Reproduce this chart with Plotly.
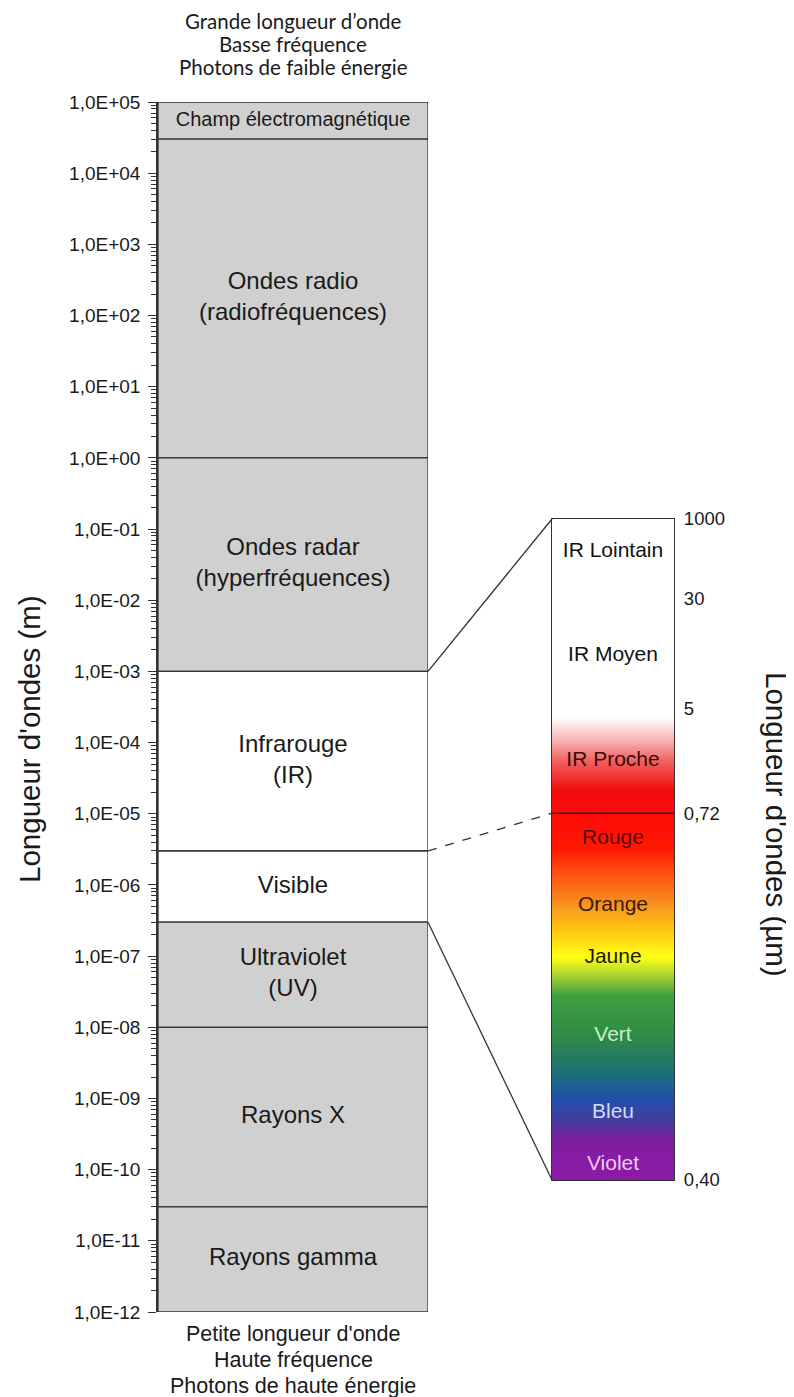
import math
import plotly.graph_objects as go

# ---------------- data ----------------
band_names = ["Champ électromagnétique", "Ondes radio<br>(radiofréquences)",
              "Ondes radar<br>(hyperfréquences)", "Infrarouge<br>(IR)", "Visible",
              "Ultraviolet<br>(UV)", "Rayons X", "Rayons gamma"]
band_top_m = [1e5, 3e4, 1.0, 1e-3, 3e-6, 3e-7, 1e-8, 3e-11]
band_bottom_m = [3e4, 1.0, 1e-3, 3e-6, 3e-7, 1e-8, 3e-11, 1e-12]
band_fill = ["#d0d0d0", "#d0d0d0", "#d0d0d0", "#ffffff", "#ffffff",
             "#d0d0d0", "#d0d0d0", "#d0d0d0"]
band_label_size = [20, 24, 24, 24, 24, 24, 24, 24]

decade_values = [1e-12, 1e-11, 1e-10, 1e-9, 1e-8, 1e-7, 1e-6, 1e-5, 1e-4,
                 1e-3, 1e-2, 1e-1, 1e0, 1e1, 1e2, 1e3, 1e4, 1e5]
decade_labels = ["1,0E-12", "1,0E-11", "1,0E-10", "1,0E-09", "1,0E-08", "1,0E-07",
                 "1,0E-06", "1,0E-05", "1,0E-04", "1,0E-03", "1,0E-02", "1,0E-01",
                 "1,0E+00", "1,0E+01", "1,0E+02", "1,0E+03", "1,0E+04", "1,0E+05"]

# zoom (schematic) scale of the optical part, in µm
zoom_tick_labels = ["0,40", "0,72", "5", "30", "1000"]
zoom_tick_um = [0.40, 0.72, 5, 30, 1000]
zoom_band_names = ["IR Lointain", "IR Moyen", "IR Proche", "Rouge", "Orange",
                   "Jaune", "Vert", "Bleu", "Violet"]
zoom_band_text_color = ["#111111", "#111111", "#3a0a0a", "#5a0a0a", "#3a1a00",
                        "#1a1a00", "#c8f0c8", "#cfdcff", "#f4c8f4"]
spectrum_colors = ["#8c1aa8", "#801ea0", "#4a3a9e", "#1e50aa", "#1e7272", "#2e8b45",
                   "#40a040", "#a8d232", "#ffff14", "#ffc814", "#f7901e", "#ff4a10",
                   "#ff1a00", "#ff0a0a", "#f00c0c", "#f26262", "#f7b4b4", "#ffffff",
                   "#ffffff"]

top_lines = ["Grande longueur d’onde", "Basse fréquence", "Photons de faible énergie"]
bottom_lines = ["Petite longueur d'onde", "Haute fréquence", "Photons de haute énergie"]

# ---------------- layout constants (pixels of the 794x1397 page) ----------------
PAGE_W, PAGE_H = 794, 1397
OFF = 8                      # default body margin of the page
W, H = PAGE_W - OFF, PAGE_H - OFF


def px(x):
    return (x - OFF) / W


def py(y):
    return 1 - (y - OFF) / H


left_x = (px(158), px(428))
left_y = (py(1312), py(102))
right_x = (px(552), px(674))
right_y = (py(1180), py(519))
# schematic position (0 = bottom, 100 = top) of the zoom-bar ticks and labels
zoom_tick_pos = [0, 55.5, 71.4, 88.0, 100]
zoom_label_pos = [95.0, 79.3, 63.5, 51.7, 41.5, 33.6, 21.8, 10.1, 2.3]
spectrum_pos = [0, 6.1, 8.6, 12.6, 16.6, 21.9, 28.0, 31.0, 33.7, 37.8, 41.9, 46.9,
                49.9, 55.5, 59.0, 63.5, 66.6, 70.0, 100]
top_lines_y = [21, 44, 67]
bottom_lines_y = [1334, 1360, 1386]

FONT = "Liberation Sans, Arial, sans-serif"
LINE = "#333333"
TXT = "#1a1a1a"

fig = go.Figure()

# left column: bands
fig.add_trace(go.Bar(
    x=[0] * len(band_names),
    y=[t - b for t, b in zip(band_top_m, band_bottom_m)],
    base=band_bottom_m, width=1,
    marker=dict(color=band_fill, line=dict(color=LINE, width=1.3)),
    cliponaxis=False, hoverinfo="skip", showlegend=False,
    xaxis="x", yaxis="y"))

fig.add_trace(go.Scatter(
    x=[0] * len(band_names),
    y=[(t * b) ** 0.5 for t, b in zip(band_top_m, band_bottom_m)],
    mode="text", text=band_names,
    textfont=dict(family=FONT, size=band_label_size, color=TXT),
    hoverinfo="skip", showlegend=False, xaxis="x", yaxis="y"))

# right column: colour spectrum as a smoothed heatmap
fig.add_trace(go.Heatmap(
    x=[0, 1], y=spectrum_pos, z=[[p, p] for p in spectrum_pos],
    zmin=0, zmax=100, zsmooth="best", showscale=False, hoverinfo="skip",
    colorscale=[[p / 100, c] for p, c in zip(spectrum_pos, spectrum_colors)],
    xaxis="x2", yaxis="y2"))

fig.add_trace(go.Scatter(
    x=[0.5] * len(zoom_band_names), y=zoom_label_pos, mode="text",
    text=zoom_band_names,
    textfont=dict(family=FONT, size=21, color=zoom_band_text_color),
    hoverinfo="skip", showlegend=False, xaxis="x2", yaxis="y2"))

# boundary between IR proche and visible inside zoom bar
fig.add_shape(type="line", xref="x2 domain", yref="y2", x0=0, x1=1,
              y0=zoom_tick_pos[1], y1=zoom_tick_pos[1],
              line=dict(color="#222222", width=1.5))


# connecting lines (data values -> paper coordinates)
def left_paper_y(v):
    return left_y[0] + (math.log10(v) + 12) / 17 * (left_y[1] - left_y[0])


def right_paper_y(p):
    return right_y[0] + p / 100 * (right_y[1] - right_y[0])


connections = [(band_bottom_m[2], zoom_tick_pos[4], "solid"),
               (band_bottom_m[3], zoom_tick_pos[1], "dash"),
               (band_bottom_m[4], zoom_tick_pos[0], "solid")]
for v, p, d in connections:
    fig.add_shape(type="line", xref="paper", yref="paper",
                  x0=left_x[1], y0=left_paper_y(v), x1=right_x[0], y1=right_paper_y(p),
                  line=dict(color=LINE, width=1.3, dash=d))

minor_vals = [k * 10 ** e for e in range(-12, 5) for k in range(2, 10)]

fig.update_layout(
    width=W, height=H,
    margin=dict(l=0, r=0, t=0, b=0, pad=0, autoexpand=False),
    paper_bgcolor="white", plot_bgcolor="rgba(0,0,0,0)",
    barmode="overlay", showlegend=False,
    font=dict(family=FONT, color=TXT),
    xaxis=dict(domain=list(left_x), range=[-0.5, 0.5], visible=False,
               automargin=False),
    yaxis=dict(domain=list(left_y), type="log", range=[-12, 5], anchor="x",
               automargin=False,
               showline=True, linecolor=LINE, linewidth=1.5, showgrid=False,
               zeroline=False, tickmode="array", tickvals=decade_values,
               ticktext=decade_labels, ticks="outside", ticklen=8, tickcolor=LINE,
               ticklabelstandoff=4,
               tickfont=dict(family=FONT, size=19, color=TXT),
               minor=dict(tickmode="array", tickvals=minor_vals, ticks="outside",
                          ticklen=5, tickcolor=LINE, showgrid=False)),
    yaxis3=dict(type="log", range=[-12, 5], overlaying="y", anchor="x", side="left",
                automargin=False,
                showgrid=False, zeroline=False, showline=False, showticklabels=False,
                tickmode="array", tickvals=decade_values, ticks="inside", ticklen=5,
                tickcolor=LINE,
                minor=dict(tickmode="array", tickvals=minor_vals, ticks="inside",
                           ticklen=5, tickcolor=LINE, showgrid=False)),
    xaxis2=dict(domain=list(right_x), range=[-0.5, 1.5], anchor="y2",
                automargin=False,
                showline=True, mirror=True, linecolor=LINE, linewidth=1.3,
                showgrid=False, zeroline=False, showticklabels=False, ticks=""),
    yaxis2=dict(domain=list(right_y), range=[0, 100], anchor="x2", side="right",
                automargin=False,
                showline=True, mirror=True, linecolor=LINE, linewidth=1.3,
                showgrid=False, zeroline=False, ticks="", tickmode="array",
                tickvals=zoom_tick_pos, ticktext=zoom_tick_labels,
                ticklabelstandoff=5,
                tickfont=dict(family=FONT, size=18.5, color=TXT)),
)

for t, y in zip(top_lines, top_lines_y):
    fig.add_annotation(text=t, xref="paper", yref="paper", x=px(293), y=py(y),
                       xanchor="center", yanchor="middle", showarrow=False,
                       font=dict(family="Lato, sans-serif", size=20.5, color=TXT))
for t, y in zip(bottom_lines, bottom_lines_y):
    fig.add_annotation(text=t, xref="paper", yref="paper", x=px(293), y=py(y),
                       xanchor="center", yanchor="middle", showarrow=False,
                       font=dict(family=FONT, size=21.5, color=TXT))
fig.add_annotation(text="Longueur d'ondes (m)", xref="paper", yref="paper",
                   x=px(29), y=py(739), textangle=-90, showarrow=False,
                   xanchor="center", yanchor="middle",
                   font=dict(family=FONT, size=29.5, color=TXT))
fig.add_annotation(text="Longueur d'ondes (µm)", xref="paper", yref="paper",
                   x=px(777), y=py(824), textangle=90, showarrow=False,
                   xanchor="center", yanchor="middle",
                   font=dict(family=FONT, size=29.5, color=TXT))

fig.write_html("out.html")
